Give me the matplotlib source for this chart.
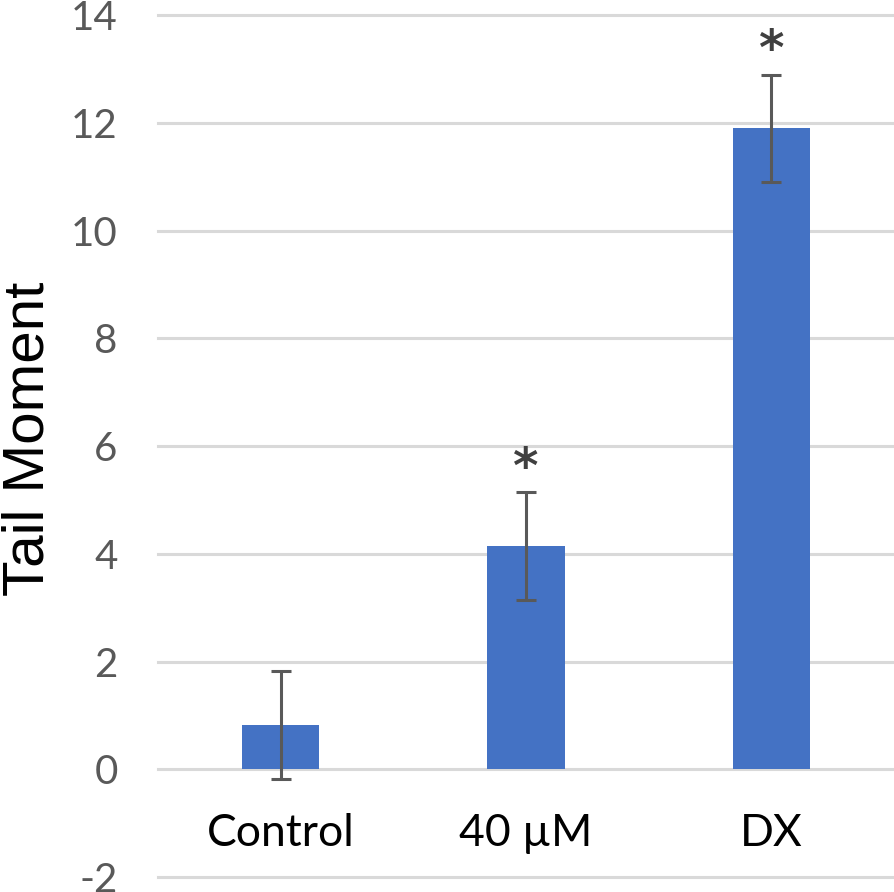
import matplotlib
matplotlib.use("Agg")
import matplotlib.pyplot as plt
import numpy as np

categories = ["Control", "40 µM", "DX"]
tail_moment = [0.82, 4.15, 11.9]
errors = [1.0, 1.0, 1.0]
stars = ["", "*", "*"]
yticks = [-2, 0, 2, 4, 6, 8, 10, 12, 14]

fig = plt.figure(figsize=(8.94, 8.92), dpi=100)
ax = fig.add_axes([158 / 894, 1 - 877 / 892, 1 - 158 / 894, (877 - 15.3) / 892])

x = np.arange(len(categories))
ax.bar(x, tail_moment, width=0.314, color="#4472C4", zorder=3)
ax.errorbar(x, tail_moment, yerr=errors, fmt="none", ecolor="#595959",
            elinewidth=2.2, capsize=7.2, capthick=2.2, zorder=4)

for i in range(len(categories)):
    if stars[i]:
        ax.text(x[i], tail_moment[i] + errors[i] + 0.17, stars[i], ha="center", va="baseline",
                fontsize=35, fontweight="bold", color="#404040", family="DejaVu Sans")
    ax.text(x[i], -1.19, categories[i], ha="center", va="center",
            fontsize=32, color="black", family="Lato")

ax.set_xlim(-0.5, 2.5)
ax.set_ylim(-2, 14)
ax.set_yticks(yticks)
ax.set_yticklabels([str(v) for v in yticks], fontsize=29, color="#595959", family="Lato")
ax.tick_params(axis="y", length=0, pad=29)
ax.set_xticks([])
for v in yticks:
    ax.axhline(v, color="#d9d9d9", linewidth=2.2, zorder=1, clip_on=False)
for s in ax.spines.values():
    s.set_visible(False)

fig.text(29 / 894, 1 - 439 / 892, "Tail Moment", rotation=90, ha="center", va="center",
         fontsize=42, color="black", family="Liberation Sans")

fig.savefig("out.png", dpi=100)
